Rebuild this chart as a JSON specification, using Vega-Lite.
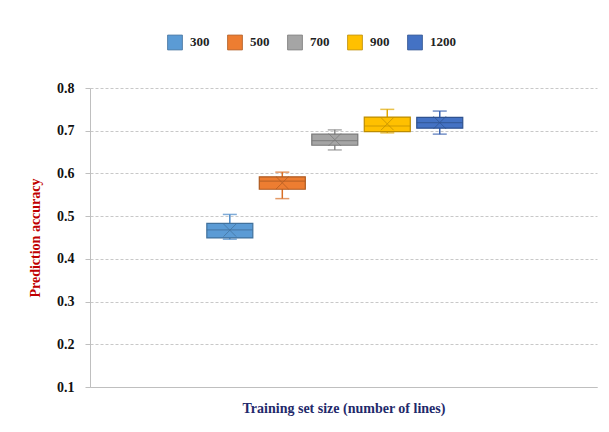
{
  "$schema": "https://vega.github.io/schema/vega-lite/v6.json",
  "width": 507,
  "height": 299,
  "autosize": "none",
  "padding": {"left": 90, "top": 88, "right": 12, "bottom": 45},
  "background": "white",
  "config": {
    "view": {"stroke": null},
    "font": "Liberation Serif"
  },
  "data": {
    "values": [
      {"size": "300", "min": 0.446, "q1": 0.449, "median": 0.468, "q3": 0.483, "max": 0.504, "mean": 0.467},
      {"size": "500", "min": 0.541, "q1": 0.563, "median": 0.582, "q3": 0.592, "max": 0.603, "mean": 0.578},
      {"size": "700", "min": 0.655, "q1": 0.666, "median": 0.677, "q3": 0.692, "max": 0.702, "mean": 0.679},
      {"size": "900", "min": 0.695, "q1": 0.698, "median": 0.711, "q3": 0.732, "max": 0.750, "mean": 0.716},
      {"size": "1200", "min": 0.692, "q1": 0.706, "median": 0.719, "q3": 0.731, "max": 0.746, "mean": 0.719}
    ]
  },
  "encoding": {
    "x": {
      "field": "size",
      "type": "nominal",
      "scale": {"type": "point", "domain": ["_a", "_b", "300", "500", "700", "900", "1200", "_c", "_d"], "padding": 0.83, "align": 0.4},
      "axis": {
        "labels": false,
        "ticks": false,
        "domain": true,
        "domainColor": "#bfbfbf",
        "title": "Training set size (number of lines)",
        "titleFont": "Liberation Serif",
        "titleFontSize": 14,
        "titleFontWeight": "bold",
        "titleColor": "#1f2a6b",
        "titlePadding": 14
      }
    }
  },
  "layer": [
    {
      "mark": {"type": "rule", "strokeWidth": 1.5},
      "encoding": {
        "y": {
          "field": "min",
          "type": "quantitative",
          "scale": {"domain": [0.1, 0.8], "nice": false, "zero": false},
          "axis": {
            "values": [0.1, 0.2, 0.3, 0.4, 0.5, 0.6, 0.7, 0.8],
            "format": ".1f",
            "labelFont": "Liberation Serif",
            "labelFontSize": 14,
            "labelFontWeight": "bold",
            "labelColor": "#111111",
            "labelPadding": 11,
            "grid": true,
            "gridColor": "#c8c8c8",
            "gridDash": [3, 2],
            "domainColor": "#bfbfbf",
            "tickColor": "#bfbfbf",
            "tickSize": 5,
            "title": "Prediction accuracy",
            "titleFont": "Liberation Serif",
            "titleFontSize": 14,
            "titleFontWeight": "bold",
            "titleColor": "#c00000",
            "titlePadding": 14
          }
        },
        "y2": {"field": "max"},
        "color": {
          "field": "size",
          "type": "nominal",
          "scale": {"domain": ["300", "500", "700", "900", "1200"], "range": ["#4a89c8", "#d96f26", "#8c8c8c", "#e0a800", "#3a63b0"]},
          "legend": null
        }
      }
    },
    {
      "mark": {"type": "tick", "size": 14, "thickness": 1.5, "orient": "horizontal"},
      "encoding": {
        "y": {"field": "min", "type": "quantitative"},
        "color": {"field": "size", "type": "nominal", "scale": {"domain": ["300", "500", "700", "900", "1200"], "range": ["#4a89c8", "#d96f26", "#8c8c8c", "#e0a800", "#3a63b0"]}, "legend": null}
      }
    },
    {
      "mark": {"type": "tick", "size": 14, "thickness": 1.5, "orient": "horizontal"},
      "encoding": {
        "y": {"field": "max", "type": "quantitative"},
        "color": {"field": "size", "type": "nominal", "scale": {"domain": ["300", "500", "700", "900", "1200"], "range": ["#4a89c8", "#d96f26", "#8c8c8c", "#e0a800", "#3a63b0"]}, "legend": null}
      }
    },
    {
      "mark": {"type": "bar", "size": 46, "strokeWidth": 1.2, "fillOpacity": 1},
      "encoding": {
        "y": {"field": "q1", "type": "quantitative"},
        "y2": {"field": "q3"},
        "fill": {
          "field": "size",
          "type": "nominal",
          "scale": {"domain": ["300", "500", "700", "900", "1200"], "range": ["#5b9bd5", "#ed7d31", "#a5a5a5", "#ffc000", "#4472c4"]},
          "legend": {
            "orient": "none",
            "direction": "horizontal",
            "legendX": 77,
            "legendY": -54,
            "title": null,
            "symbolType": "square",
            "symbolSize": 220,
            "symbolOpacity": 1,
            "symbolStrokeWidth": 0.8,
            "symbolStrokeColor": "#a0a0a0",
            "labelFont": "Liberation Serif",
            "labelFontSize": 13,
            "labelFontWeight": "bold",
            "labelColor": "#222222",
            "columnPadding": 15,
            "labelOffset": 7
          }
        },
        "stroke": {"field": "size", "type": "nominal", "scale": {"domain": ["300", "500", "700", "900", "1200"], "range": ["#41719c", "#ae5a21", "#787878", "#bc8c00", "#2f528f"]}, "legend": null}
      }
    },
    {
      "mark": {"type": "tick", "size": 46, "thickness": 1.2, "orient": "horizontal"},
      "encoding": {
        "y": {"field": "median", "type": "quantitative"},
        "color": {"field": "size", "type": "nominal", "scale": {"domain": ["300", "500", "700", "900", "1200"], "range": ["#41719c", "#ae5a21", "#787878", "#bc8c00", "#2f528f"]}, "legend": null}
      }
    },
    {
      "mark": {"type": "point", "shape": "M-1,-1L1,1M-1,1L1,-1", "size": 160, "filled": false, "strokeWidth": 1, "opacity": 0.7},
      "encoding": {
        "y": {"field": "mean", "type": "quantitative"},
        "color": {"field": "size", "type": "nominal", "scale": {"domain": ["300", "500", "700", "900", "1200"], "range": ["#41719c", "#ae5a21", "#787878", "#bc8c00", "#2f528f"]}, "legend": null}
      }
    }
  ],
  "resolve": {"scale": {"color": "independent", "fill": "independent", "stroke": "independent"}}
}
